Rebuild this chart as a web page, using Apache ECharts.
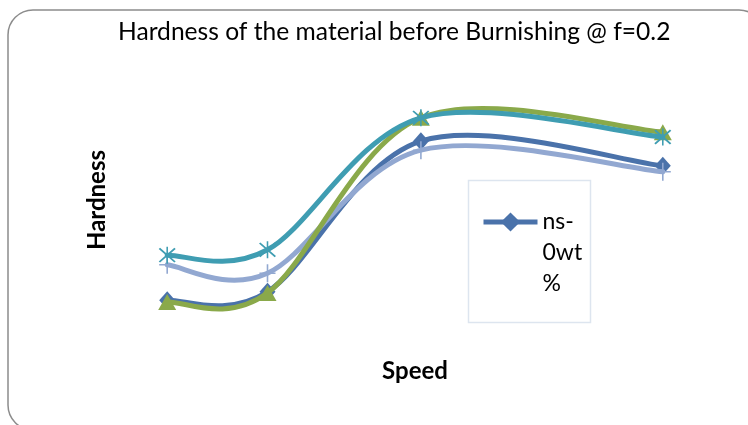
<!DOCTYPE html>
<html>
<head>
<meta charset="utf-8">
<script src="https://cdn.jsdelivr.net/npm/echarts@6/dist/echarts.min.js"></script>
<style>
  html, body { margin: 0; padding: 0; background: #ffffff; }
  #chart { width: 748px; height: 425px; }
</style>
</head>
<body>
<div id="chart"></div>
<script>
// Spindle speeds (rpm) at which hardness was measured
const speeds = [280, 450, 710, 1120];

// Hardness readings per nano-additive content
const seriesNames = ['ns-0wt%', 'ns-0.5wt%', 'ns-1wt%', 'ns-1.5wt%'];
const hardness0   = [58.3, 59.7, 84.8, 80.7];
const hardness05  = [64.2, 62.8, 83.3, 79.7];
const hardness1   = [58.0, 59.5, 88.7, 86.3];
const hardness15  = [65.8, 66.7, 88.7, 85.5];

const seriesColors = ['#4a72aa', '#92a8d1', '#8aa94a', '#3f9db2'];

const FONT = 'Lato';

// Marker shapes: thin plus and six-armed asterisk
const plusPath = 'path://M9,0L11,0L11,20L9,20Z M0,9.2L20,9.2L20,10.8L0,10.8Z';
const starPath = 'path://M9.2,0L10.8,0L10.8,20L9.2,20Z ' +
  'M1.3,2.7L2.7,1.3L18.7,17.3L17.3,18.7Z ' +
  'M17.3,1.3L18.7,2.7L2.7,18.7L1.3,17.3Z';

const valueSets = [hardness0, hardness05, hardness1, hardness15];
const symbols = ['diamond', plusPath, 'triangle', starPath];
const symbolSizes = [[16, 18], [16, 18], [18, 16], [17, 17]];

// Spreadsheet-style smoothed curve: cubic Bezier segments whose control
// points follow the chord of the neighbouring points (tension 1/6).
function smoothPath(pts) {
  const n = pts.length;
  const p = function (i) { return pts[Math.max(0, Math.min(n - 1, i))]; };
  let d = 'M' + pts[0][0] + ',' + pts[0][1];
  for (let i = 0; i < n - 1; i++) {
    const a = p(i - 1), b = p(i), c = p(i + 1), e = p(i + 2);
    const c1x = b[0] + (c[0] - a[0]) / 6, c1y = b[1] + (c[1] - a[1]) / 6;
    const c2x = c[0] - (e[0] - b[0]) / 6, c2y = c[1] - (e[1] - b[1]) / 6;
    d += 'C' + c1x + ',' + c1y + ',' + c2x + ',' + c2y + ',' + c[0] + ',' + c[1];
  }
  return d;
}

const series = [];
valueSets.forEach(function (vals, i) {
  const pairs = speeds.map(function (s, j) { return [s, vals[j]]; });
  // point markers (also supplies the legend entry)
  series.push({
    name: seriesNames[i],
    type: 'line',
    data: pairs,
    symbol: symbols[i],
    symbolSize: symbolSizes[i],
    showAllSymbol: true,
    lineStyle: { color: seriesColors[i], width: 5, opacity: 0 },
    itemStyle: { color: seriesColors[i] },
    z: 3 + 2 * i,
    emphasis: { disabled: true }
  });
  // smoothed connecting curve
  series.push({
    name: seriesNames[i] + ' curve',
    type: 'custom',
    coordinateSystem: 'cartesian2d',
    data: pairs,
    clip: false,
    silent: true,
    z: 2 + 2 * i,
    renderItem: function (params, api) {
      if (params.dataIndexInside !== 0) return null;
      const pts = pairs.map(function (v) { return api.coord(v); });
      return {
        type: 'path',
        shape: { pathData: smoothPath(pts) },
        style: { fill: 'none', stroke: seriesColors[i], lineWidth: 5, lineCap: 'round', lineJoin: 'round' }
      };
    }
  });
});

const chart = echarts.init(document.getElementById('chart'), null, { renderer: 'canvas' });
chart.setOption({
  animation: false,
  backgroundColor: '#ffffff',
  textStyle: { fontFamily: FONT },
  title: {
    text: 'Hardness of the material before Burnishing @ f=0.2',
    left: 113,
    top: 15,
    textStyle: { fontFamily: FONT, fontSize: 24.6, fontWeight: 'normal', color: '#000000' }
  },
  grid: { left: 120, right: 38, top: 50, bottom: 75 },
  xAxis: {
    type: 'value',
    min: 200,
    max: 1200,
    name: 'Speed',
    nameLocation: 'middle',
    nameGap: 9,
    nameTextStyle: { fontFamily: FONT, fontSize: 24, fontWeight: 'bold', color: '#000000' },
    axisLine: { show: false },
    axisTick: { show: false },
    axisLabel: { show: false },
    splitLine: { show: false }
  },
  yAxis: {
    type: 'value',
    min: 50,
    max: 100,
    name: 'Hardness',
    nameLocation: 'middle',
    nameGap: 11,
    nameTextStyle: { fontFamily: FONT, fontSize: 24, fontWeight: 'bold', color: '#000000' },
    axisLine: { show: false },
    axisTick: { show: false },
    axisLabel: { show: false },
    splitLine: { show: false }
  },
  legend: {
    data: [seriesNames[0]],
    left: 481,
    top: 144.5,
    padding: 0,
    itemWidth: 54,
    itemHeight: 24,
    itemGap: 0,
    lineStyle: { width: 5, opacity: 1, color: seriesColors[0] },
    formatter: function () { return '\n\nns-\n0wt\n%'; },
    textStyle: {
      fontFamily: FONT,
      fontSize: 23,
      lineHeight: 31,
      color: '#000000'
    }
  },
  graphic: [
    {
      type: 'rect',
      silent: true,
      shape: { x: 8, y: 10, width: 756, height: 420, r: 25 },
      style: { fill: 'none', stroke: '#8c8c8c', lineWidth: 1.5 },
      z: -1
    },
    {
      type: 'rect',
      silent: true,
      shape: { x: 468.5, y: 180.5, width: 122, height: 142 },
      style: { fill: 'none', stroke: '#dde5ef', lineWidth: 1.5 },
      z: -1
    }
  ],
  series: series
});
</script>
</body>
</html>
